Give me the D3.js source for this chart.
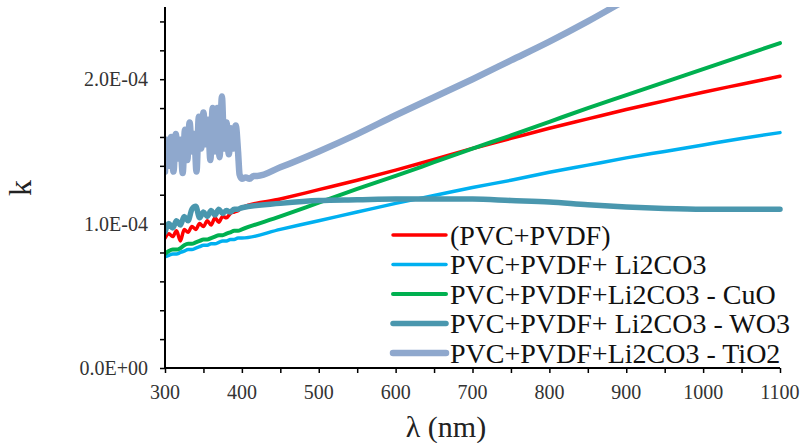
<!DOCTYPE html>
<html lang="en">
<head>
  <meta charset="UTF-8">
  <title>k vs wavelength</title>
  <script src="https://d3js.org/d3.v7.min.js"></script>
  <style>
    body { margin: 0; padding: 0; background: #fff; overflow: hidden; }
  </style>
</head>
<body>
  <svg id="chart" width="803" height="443"></svg>

  <script>
    // Data (k values in units of 1e-4)
    const UNIT = 1e-4;
    const wlNoisy = [300, 305, 310, 315, 320, 325, 330, 335, 340, 345, 350, 355, 360, 365, 370, 375, 380, 385, 390, 395];
    const wlSmooth = [400, 450, 500, 550, 600, 650, 700, 750, 800, 850, 900, 950, 1000, 1050, 1100];
    const wlTiO2 = [300, 302, 305, 308, 311, 314, 317, 320, 323, 326, 329, 332, 335, 338, 341, 344, 347, 350, 353, 356,
                    359, 362, 365, 368, 371, 374, 377, 380, 383, 386, 389, 392, 395, 397, 400, 405, 410, 415, 420,
                    450, 500, 550, 600, 650, 700, 750, 800, 850, 900, 950];

    const kPvcPvdf = [0.90, 0.93, 0.91, 0.95, 0.88, 0.96, 0.94, 0.98, 0.96, 1.00, 0.98, 1.02, 0.99, 1.04, 1.01, 1.05, 1.04, 1.07, 1.08, 1.09,
                      1.11, 1.17, 1.235, 1.30, 1.37, 1.445, 1.52, 1.59, 1.66, 1.725, 1.79, 1.85, 1.91, 1.965, 2.02];
    const kLi2CO3 = [0.77, 0.78, 0.79, 0.79, 0.80, 0.81, 0.82, 0.82, 0.83, 0.84, 0.85, 0.85, 0.86, 0.86, 0.87, 0.88, 0.88, 0.89, 0.89, 0.90,
                     0.90, 0.96, 1.02, 1.08, 1.14, 1.195, 1.25, 1.30, 1.355, 1.405, 1.455, 1.50, 1.545, 1.59, 1.63];
    const kCuO = [0.79, 0.81, 0.82, 0.82, 0.83, 0.85, 0.86, 0.86, 0.87, 0.88, 0.89, 0.89, 0.90, 0.91, 0.92, 0.92, 0.93, 0.94, 0.95, 0.95,
                  0.96, 1.05, 1.145, 1.24, 1.33, 1.425, 1.52, 1.61, 1.705, 1.80, 1.89, 1.98, 2.07, 2.16, 2.25];
    const kWO3 = [0.94, 1.00, 0.97, 1.02, 0.99, 1.05, 1.02, 1.10, 1.12, 1.04, 1.08, 1.05, 1.09, 1.06, 1.10, 1.07, 1.09, 1.08, 1.10, 1.10,
                  1.11, 1.14, 1.16, 1.165, 1.17, 1.17, 1.17, 1.16, 1.15, 1.13, 1.115, 1.105, 1.10, 1.10, 1.10];
    const kTiO2 = [1.36, 1.58, 1.40, 1.60, 1.36, 1.62, 1.45, 1.58, 1.35, 1.65, 1.44, 1.70, 1.50, 1.62, 1.36, 1.74, 1.52, 1.77, 1.55, 1.72,
                   1.44, 1.80, 1.50, 1.80, 1.46, 1.88, 1.52, 1.70, 1.48, 1.66, 1.52, 1.68, 1.50, 1.34, 1.31, 1.32, 1.31, 1.33, 1.33,
                   1.39, 1.50, 1.62, 1.75, 1.875, 2.0, 2.13, 2.26, 2.40, 2.55, 2.70];

    const seriesNames = ["(PVC+PVDF)", "PVC+PVDF+ Li2CO3", "PVC+PVDF+Li2CO3 - CuO", "PVC+PVDF+ Li2CO3 - WO3", "PVC+PVDF+Li2CO3 - TiO2"];
    const seriesColors = ["#ff0000", "#00b0f0", "#00b050", "#4a97ae", "#8fa8cd"];
    const seriesWidths = [3.5, 3.5, 4, 5.5, 6.5];

    const xTicks = [300, 400, 500, 600, 700, 800, 900, 1000, 1100];
    const yLabelTicks = [0, 1e-4, 2e-4];

    const wlStd = wlNoisy.concat(wlSmooth);
    const series = [
      { wl: wlStd, k: kPvcPvdf },
      { wl: wlStd, k: kLi2CO3 },
      { wl: wlStd, k: kCuO },
      { wl: wlStd, k: kWO3 },
      { wl: wlTiO2, k: kTiO2 }
    ].map((s, i) => ({
      name: seriesNames[i], color: seriesColors[i], width: seriesWidths[i],
      points: s.wl.map((w, j) => [w, s.k[j] * UNIT])
    }));

    // Layout
    const FONT = '"Liberation Serif", "Times New Roman", serif';
    const svg = d3.select("#chart");
    const plot = { left: 165, right: 780, top: 7, bottom: 368 };

    const x = d3.scaleLinear().domain([300, 1100]).range([plot.left, plot.right]);
    const y = d3.scaleLinear().domain([0, 2.5e-4]).range([plot.bottom, plot.top]);

    const sciFmt = v => {
      const [m, e] = v.toExponential(1).split("e");
      const sign = e[0] === "-" ? "-" : "+";
      const digits = e.replace(/[+-]/, "").padStart(2, "0");
      return m + "E" + sign + digits;
    };

    svg.append("clipPath").attr("id", "plotClip")
      .append("rect")
      .attr("x", plot.left).attr("y", plot.top)
      .attr("width", plot.right - plot.left + 10).attr("height", plot.bottom - plot.top);

    // Lines
    const line = d3.line()
      .x(d => x(d[0]))
      .y(d => y(d[1]))
      .curve(d3.curveMonotoneX);

    svg.append("g").attr("clip-path", "url(#plotClip)")
      .selectAll("path")
      .data(series)
      .join("path")
      .attr("fill", "none")
      .attr("stroke", d => d.color)
      .attr("stroke-width", d => d.width)
      .attr("stroke-linejoin", "round")
      .attr("stroke-linecap", "round")
      .attr("d", d => line(d.points));

    // Y axis
    const yAxis = svg.append("g")
      .attr("transform", `translate(${plot.left},0)`)
      .call(d3.axisLeft(y).tickValues(d3.range(0, 13).map(i => i * 0.2e-4)).tickSize(5).tickFormat(""));
    yAxis.select(".domain").attr("stroke", "#000").attr("stroke-width", 2).attr("d", `M0,${plot.top}V${plot.bottom}`);
    yAxis.selectAll(".tick line").attr("stroke", "#000").attr("stroke-width", 1.5);

    svg.append("g").selectAll("text")
      .data(yLabelTicks)
      .join("text")
      .attr("x", 148)
      .attr("y", d => y(d))
      .attr("dy", "0.35em")
      .attr("text-anchor", "end")
      .style("font-family", FONT)
      .attr("font-size", 20)
      .attr("fill", "#333")
      .text(sciFmt);

    // X axis
    const xAxis = svg.append("g")
      .attr("transform", `translate(0,${plot.bottom})`)
      .call(d3.axisBottom(x).tickValues(d3.range(300, 1101, 50)).tickSize(5).tickFormat(""));
    xAxis.select(".domain").attr("stroke", "#000").attr("stroke-width", 2).attr("d", `M${plot.left},0H${plot.right}`);
    xAxis.selectAll(".tick line").attr("stroke", "#000").attr("stroke-width", 1.5);

    svg.append("g").selectAll("text")
      .data(xTicks)
      .join("text")
      .attr("x", d => x(d))
      .attr("y", 392)
      .attr("dy", "0.35em")
      .attr("text-anchor", "middle")
      .style("font-family", FONT)
      .attr("font-size", 20)
      .attr("fill", "#333")
      .text(d => d);

    // Axis titles
    svg.append("text")
      .attr("x", 446).attr("y", 426).attr("dy", "0.35em")
      .attr("text-anchor", "middle")
      .style("font-family", FONT)
      .attr("font-size", 30)
      .attr("fill", "#222")
      .text("λ (nm)");

    svg.append("text")
      .attr("transform", "translate(20,188) rotate(-90)")
      .attr("dy", "0.35em")
      .attr("text-anchor", "middle")
      .style("font-family", FONT)
      .attr("font-size", 32)
      .attr("fill", "#222")
      .text("k");

    // Legend
    const legend = svg.append("g").attr("transform", "translate(393,235)");
    const item = legend.selectAll("g")
      .data(series)
      .join("g")
      .attr("transform", (d, i) => `translate(0,${i * 29.5})`);
    item.append("line")
      .attr("x1", 0).attr("x2", 53)
      .attr("stroke", d => d.color)
      .attr("stroke-width", d => d.width)
      .attr("stroke-linecap", "round");
    item.append("text")
      .attr("x", 57)
      .attr("dy", "0.35em")
      .style("font-family", FONT)
      .attr("font-size", 28)
      .attr("fill", "#111")
      .text(d => d.name);
  </script>
</body>
</html>
